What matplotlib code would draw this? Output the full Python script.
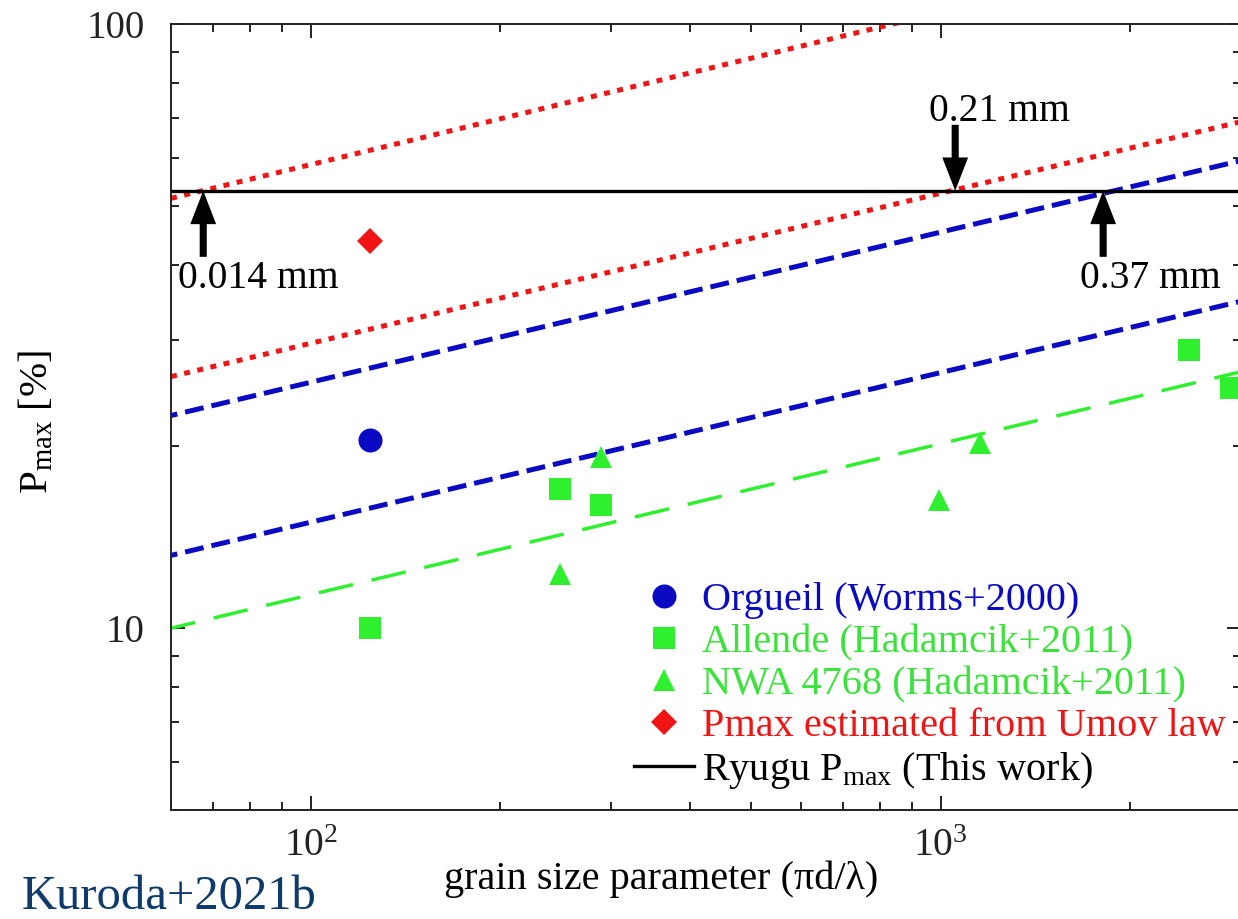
import matplotlib
matplotlib.use('Agg')
import matplotlib.pyplot as plt
from matplotlib.ticker import LogLocator, NullFormatter, FuncFormatter, LogFormatterMathtext

plt.rcParams['font.family'] = ['Liberation Serif', 'DejaVu Serif']
plt.rcParams['mathtext.fontset'] = 'custom'
plt.rcParams['mathtext.rm'] = 'Liberation Serif'
plt.rcParams['mathtext.it'] = 'Liberation Serif:italic'
plt.rcParams['mathtext.bf'] = 'Liberation Serif:bold'

# ---------------- data ----------------
orgueil_x = [124]
orgueil_p = [20.5]
allende_x = [124, 249, 289, 2480, 2890]
allende_p = [10.0, 17.0, 16.0, 28.9, 25.0]
nwa_x = [249, 289, 994, 1154]
nwa_p = [12.3, 19.2, 16.3, 20.3]
umov_x = [124]
umov_p = [43.8]
ryugu_pmax = 53.0

line_x = [60, 3000]
red_high_p = [51.5, 138.0]
red_low_p = [26.1, 69.0]
blue_high_p = [22.5, 59.5]
blue_low_p = [13.2, 34.8]
green_p = [10.0, 26.6]

annot_x = [67.5, 1054, 1810]
annot_labels = ['0.014 mm', '0.21 mm', '0.37 mm']

legend_labels = ['Orgueil (Worms+2000)', 'Allende (Hadamcik+2011)',
                 'NWA 4768 (Hadamcik+2011)', 'Pmax estimated from Umov law',
                 r'Ryugu P$_{\mathrm{max}}$ (This work)']

# ---------------- colours ----------------
RED = '#F01414'
BLUE = '#0A0AC4'
GREEN = '#2EF02E'
NAVY = '#0E3A6C'

W, H = 1238, 919
fig = plt.figure(figsize=(W / 100, H / 100), dpi=100)
ax = fig.add_axes([171 / W, 109 / H, 1070.4 / W, 785.7 / H])
ax.set_xscale('log')
ax.set_yscale('log')
ax.set_xlim(60, 3000)
ax.set_ylim(5, 100)

# model lines
ax.plot(line_x, red_high_p, color=RED, lw=3.6, ls=(0, (1.2, 1.5)), dash_capstyle='butt', zorder=2)
ax.plot(line_x, red_low_p, color=RED, lw=3.6, ls=(0, (1.2, 1.5)), dash_capstyle='butt', zorder=2)
ax.plot(line_x, blue_high_p, color=BLUE, lw=3.6, ls=(2.5, (3.8, 1.6)), dash_capstyle='butt', zorder=2)
ax.plot(line_x, blue_low_p, color=BLUE, lw=3.6, ls=(2.5, (3.8, 1.6)), dash_capstyle='butt', zorder=2)
ax.plot(line_x, green_p, color=GREEN, lw=2.5, ls=(3, (10.1, 5.5)), dash_capstyle='butt', zorder=2)

h_ryugu = ax.axhline(ryugu_pmax, color='black', lw=2.4, zorder=3)

# data points
h_org, = ax.plot(orgueil_x, orgueil_p, 'o', color=BLUE, ms=17.3, mew=0, ls='none', zorder=4)
h_all, = ax.plot(allende_x, allende_p, 's', color=GREEN, ms=15.8, mew=0, ls='none', zorder=4)
h_nwa, = ax.plot(nwa_x, nwa_p, '^', color=GREEN, ms=16.5, mew=0, ls='none', zorder=4)
h_umov, = ax.plot(umov_x, umov_p, 'D', color=RED, ms=13.7, mew=0, ls='none', zorder=4)

# arrows and annotations
arrow_dirs = [-1, 1, -1]
text_offsets = [(-25, -97, 'left'), (44, 70, 'center'), (-23, -97, 'left')]
for xa, lab, d, (dx, dy, ha) in zip(annot_x, annot_labels, arrow_dirs, text_offsets):
    ax.annotate('', xy=(xa, ryugu_pmax), xytext=(0, 66 * d), textcoords='offset pixels',
                arrowprops=dict(arrowstyle='simple,head_length=0.8,head_width=0.62,tail_width=0.17',
                                fc='black', ec='none', lw=0, mutation_scale=30,
                                shrinkA=0, shrinkB=0), zorder=5)
    ax.annotate(lab, xy=(xa, ryugu_pmax), xytext=(dx, dy), textcoords='offset pixels',
                ha=ha, va='baseline', fontsize=28.5, color='black', zorder=5)

# ticks
for axis in (ax.xaxis, ax.yaxis):
    axis.set_major_locator(LogLocator(base=10, numticks=10))
    axis.set_minor_locator(LogLocator(base=10, subs=range(2, 10), numticks=20))
    axis.set_minor_formatter(NullFormatter())
ax.xaxis.set_major_formatter(LogFormatterMathtext())
ax.yaxis.set_major_formatter(FuncFormatter(lambda v, p: '%g' % v))
ax.tick_params(which='both', direction='in', top=True, right=True, colors='#222222', width=1.4)
ax.tick_params(which='major', length=10)
ax.tick_params(which='minor', length=6)
ax.tick_params(axis='y', which='major', labelsize=28, pad=19)
ax.tick_params(axis='x', which='major', labelsize=28.5, pad=13)
for s in ax.spines.values():
    s.set_linewidth(1.4)
    s.set_color('#222222')

ax.set_xlabel('grain size parameter (\u03c0d/\u03bb)', fontsize=29)
ax.xaxis.set_label_coords((661 - 171) / 1070.4, -0.064)
ax.set_ylabel(r'P$_{\mathrm{max}}$ [%]', fontsize=29.5)
ax.yaxis.set_label_coords((56 - 171) / 1070.4, 0.494)

leg = ax.legend([h_org, h_all, h_nwa, h_umov, h_ryugu], legend_labels,
                loc='upper left', bbox_to_anchor=(634 / W, (H - 582) / H),
                bbox_transform=fig.transFigure, frameon=False, fontsize=29,
                handlelength=1.5, handletextpad=0.18, labelspacing=0.12,
                borderpad=0, borderaxespad=0, numpoints=1)
for t, c in zip(leg.get_texts(), [BLUE, '#3AE23A', '#3AE23A', RED, 'black']):
    t.set_color(c)

fig.text(22 / W, (H - 909) / H, 'Kuroda+2021b', fontsize=35, color=NAVY, ha='left', va='baseline')

fig.savefig('out.png', dpi=100)
